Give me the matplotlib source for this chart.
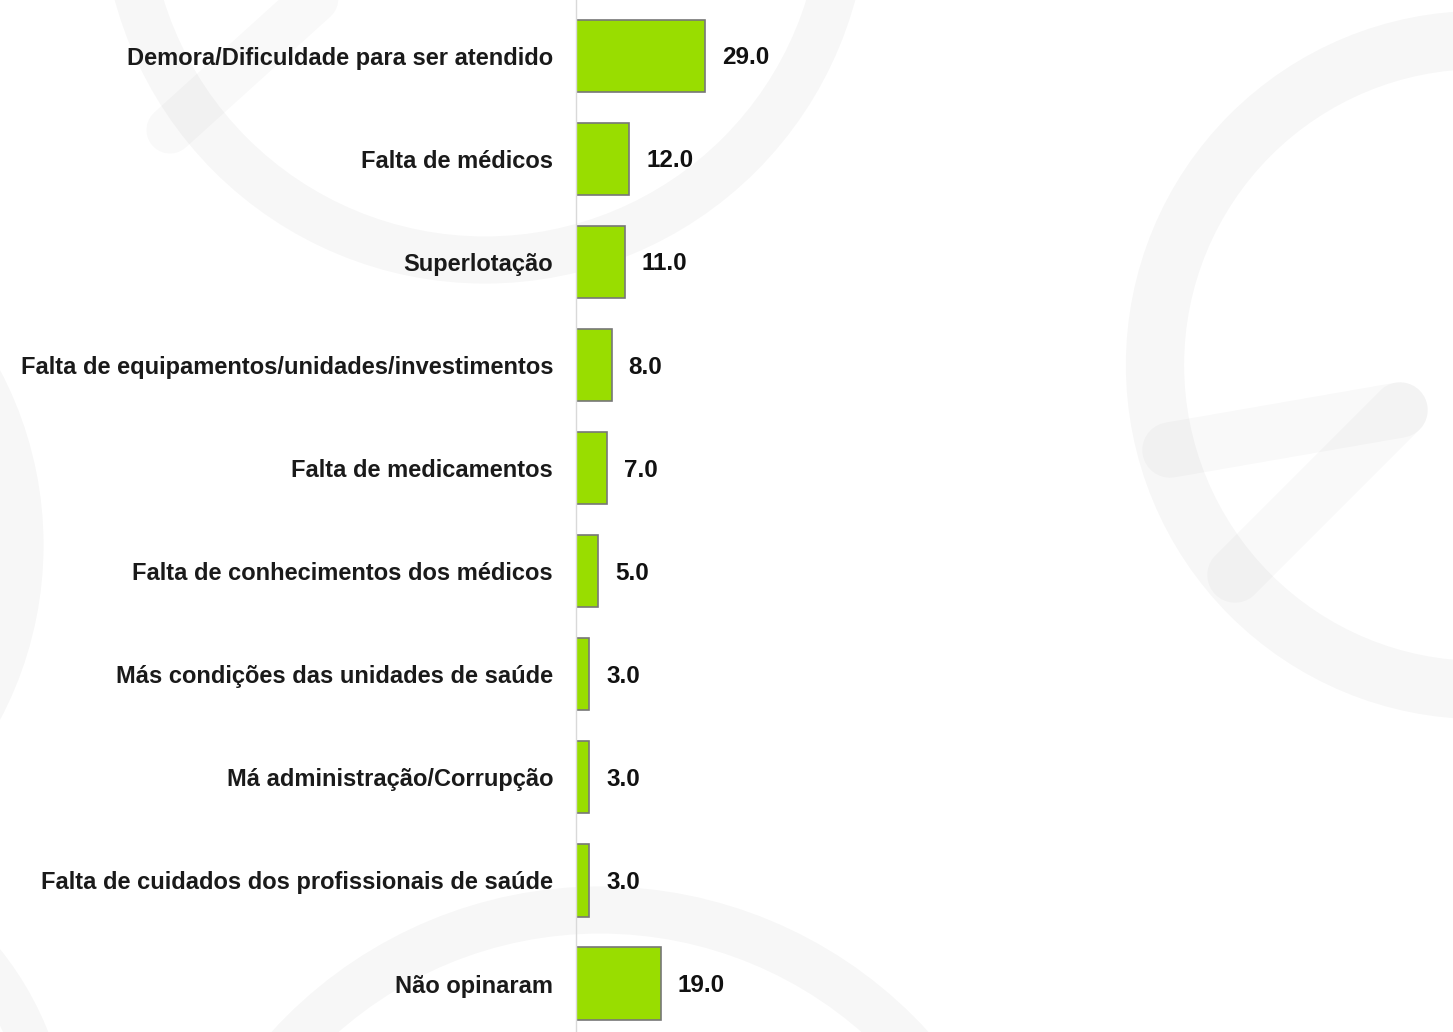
import matplotlib
matplotlib.use("Agg")
import matplotlib.pyplot as plt
from matplotlib.patches import Circle

categories = [
    "Demora/Dificuldade para ser atendido",
    "Falta de médicos",
    "Superlotação",
    "Falta de equipamentos/unidades/investimentos",
    "Falta de medicamentos",
    "Falta de conhecimentos dos médicos",
    "Más condições das unidades de saúde",
    "Má administração/Corrupção",
    "Falta de cuidados dos profissionais de saúde",
    "Não opinaram",
]
values = [29.0, 12.0, 11.0, 8.0, 7.0, 5.0, 3.0, 3.0, 3.0, 19.0]

W, H = 1453, 1032
fig = plt.figure(figsize=(W / 100, H / 100), dpi=100)
fig.patch.set_facecolor("white")

# faint decorative watermark in the background
bg = fig.add_axes([0, 0, 1, 1], zorder=0)
bg.set_xlim(0, W)
bg.set_ylim(H, 0)
bg.axis("off")
wm = dict(color="black", alpha=0.025)
for (cx, cy, r, lw) in [(485, -100, 360, 34), (1480, 365, 325, 42),
                        (-330, 545, 350, 34), (600, 1330, 420, 34),
                        (-250, 1150, 300, 30)]:
    bg.add_patch(Circle((cx, cy), r, fill=False, ec="black", alpha=0.03, lw=lw))
bg.plot([170, 380], [130, -60], lw=34, solid_capstyle="round", **wm)
bg.plot([1170, 1400], [450, 410], lw=40, solid_capstyle="round", **wm)
bg.plot([1400, 1235], [410, 575], lw=40, solid_capstyle="round", **wm)

px_per_unit = 4.45
left = 576 / W
ax = fig.add_axes([left, 0, 1 - left, 1], zorder=1)
ax.patch.set_alpha(0)
ypos = list(range(len(categories)))
ax.barh(ypos, values, height=0.70, color="#99dd00", edgecolor="#777777", linewidth=1.2)
ax.set_xlim(0, (W - 576) / px_per_unit)
ax.set_ylim(9.47, -0.54)

for s in ["top", "right", "bottom"]:
    ax.spines[s].set_visible(False)
ax.spines["left"].set_color("#d9d9d9")
ax.spines["left"].set_linewidth(1.0)
ax.set_xticks([])
ax.set_yticks(ypos)
ax.set_yticklabels(categories, fontfamily="Liberation Sans", fontweight="bold",
                   fontsize=17, color="#1a1a1a")
ax.tick_params(axis="y", length=0, pad=16.5)

for y, v in zip(ypos, values):
    ax.annotate(f"{v:.1f}", xy=(v, y), xytext=(12, -1.5), textcoords="offset points",
                ha="left", va="center", fontfamily="Liberation Sans",
                fontweight="bold", fontsize=17.5, color="#111111")

fig.savefig("out.png", dpi=100)
